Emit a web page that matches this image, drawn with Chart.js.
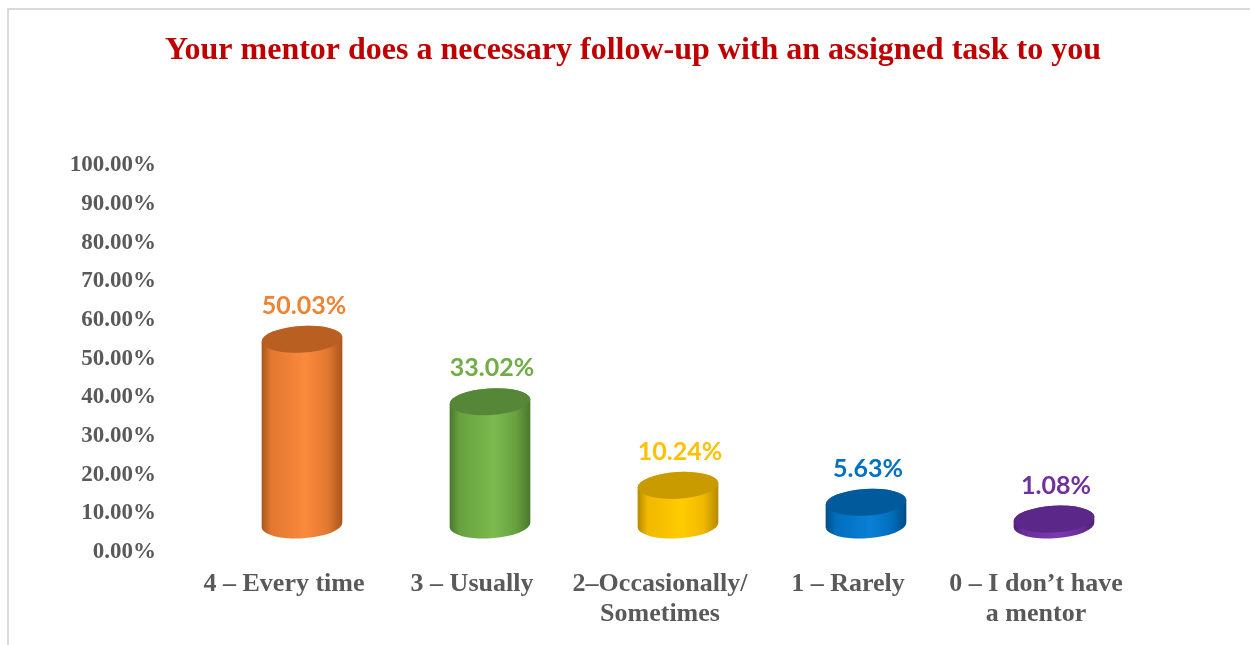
<!DOCTYPE html>
<html><head><meta charset="utf-8">
<script src="https://cdn.jsdelivr.net/npm/chart.js@4.4.0/dist/chart.umd.min.js"></script>
<style>
html,body{margin:0;padding:0;background:#fff;width:1250px;height:645px;overflow:hidden;}
#frame{position:absolute;left:7px;top:8px;width:1260px;height:660px;border-top:2px solid #d9d9d9;border-left:2px solid #d9d9d9;}
#c{position:absolute;left:0;top:0;}
</style></head><body>
<div id="frame"></div>
<canvas id="c" width="1250" height="645"></canvas>
<script>
// ---- data ----
const titleText = 'Your mentor does a necessary follow-up with an assigned task to you';
const categories = [['4 – Every time'], ['3 – Usually'], ['2–Occasionally/', 'Sometimes'], ['1 – Rarely'], ['0 – I don’t have', 'a mentor']];
const values = [50.03, 33.02, 10.24, 5.63, 1.08];
const labelColors = ['#F08232', '#70AD47', '#FFC000', '#0070C0', '#7030A0'];
const sideLight = ['#FA8A3C', '#7BBA4F', '#FFCC00', '#0A80D4', '#7D38B0'];
const sideMid   = ['#E27830', '#68A13F', '#F0B800', '#006EBC', '#6C2E9C'];
const sideDark  = ['#A9561C', '#4A772C', '#B58800', '#004C86', '#4C2070'];
const topColors = ['#BA5F22', '#568638', '#C99B00', '#005A9C', '#5B2788'];
const yMin = 0, yMax = 100, yStep = 10;

// ---- 3D cylinder styling ----
const DEPTH_X = 18, DEPTH_Y = 27, HEIGHT_K = 0.95, TILT = -0.06;

const cylinderPlugin = {
  id: 'cylinders',
  afterDatasetsDraw(chart) {
    const ctx = chart.ctx;
    const meta = chart.getDatasetMeta(0);
    meta.data.forEach((bar, i) => {
      const p = bar.getProps(['x', 'y', 'base', 'width'], true);
      const cx = p.x + DEPTH_X;
      const rx = p.width / 2;
      const ry = rx * 0.33;
      const bottom = p.base - DEPTH_Y;
      const top = bottom - (p.base - p.y) * HEIGHT_K - 2;
      const c = Math.cos(TILT), s = Math.sin(TILT);
      ctx.save();
      const g = ctx.createLinearGradient(cx - rx, 0, cx + rx, 0);
      g.addColorStop(0, sideDark[i]);
      g.addColorStop(0.12, sideMid[i]);
      g.addColorStop(0.55, sideLight[i]);
      g.addColorStop(0.82, sideMid[i]);
      g.addColorStop(1, sideDark[i]);
      ctx.beginPath();
      ctx.moveTo(cx - rx * c, top - rx * s);
      ctx.lineTo(cx - rx * c, bottom - rx * s);
      ctx.ellipse(cx, bottom, rx, ry, TILT, Math.PI, 0, true);
      ctx.lineTo(cx + rx * c, top + rx * s);
      ctx.ellipse(cx, top, rx, ry, TILT, 0, Math.PI, true);
      ctx.closePath();
      ctx.fillStyle = g;
      ctx.fill();
      ctx.beginPath();
      ctx.ellipse(cx, top, rx, ry, TILT, 0, Math.PI * 2);
      ctx.fillStyle = topColors[i];
      ctx.fill();
      ctx.font = 'bold 25px Lato, "Open Sans", sans-serif';
      ctx.fillStyle = labelColors[i];
      ctx.textAlign = 'center';
      ctx.textBaseline = 'middle';
      ctx.fillText(values[i].toFixed(2) + '%', cx + 2, top - ry - 20);
      ctx.restore();
    });
  }
};

new Chart(document.getElementById('c'), {
  type: 'bar',
  data: {
    labels: categories,
    datasets: [{
      data: values,
      backgroundColor: 'rgba(0,0,0,0)',
      borderWidth: 0,
      categoryPercentage: 1,
      barPercentage: 0.43
    }]
  },
  options: {
    responsive: false,
    animation: false,
    devicePixelRatio: 1,
    layout: { padding: { left: 16, right: 0, top: 0, bottom: 0 } },
    plugins: {
      legend: { display: false },
      tooltip: { enabled: false },
      title: {
        display: true,
        text: titleText,
        color: '#C00000',
        font: { family: '"Liberation Serif", "Times New Roman", serif', size: 32, weight: 'bold', lineHeight: 1.2 },
        padding: { top: 32, bottom: 95 }
      }
    },
    scales: {
      x: {
        grid: { display: false, drawTicks: false },
        border: { display: false },
        ticks: {
          color: '#595959',
          font: { family: '"Liberation Serif", "Times New Roman", serif', size: 26, weight: 'bold', lineHeight: 1.15 },
          padding: 17, maxRotation: 0, autoSkip: false
        },
        afterFit(s) { s.height = 93; }
      },
      y: {
        min: yMin, max: yMax,
        grid: { display: false, drawTicks: false },
        border: { display: false },
        ticks: {
          stepSize: yStep,
          color: '#595959',
          font: { family: '"Liberation Serif", "Times New Roman", serif', size: 23, weight: 'bold' },
          padding: 34,
          callback: v => v.toFixed(2) + '%'
        },
        afterFit(s) { s.width = 174; }
      },
      yR: {
        position: 'right',
        display: true,
        grid: { display: false, drawTicks: false },
        border: { display: false },
        ticks: { display: false },
        afterFit(s) { s.width = 120; }
      }
    }
  },
  plugins: [cylinderPlugin]
});
</script>
</body></html>
